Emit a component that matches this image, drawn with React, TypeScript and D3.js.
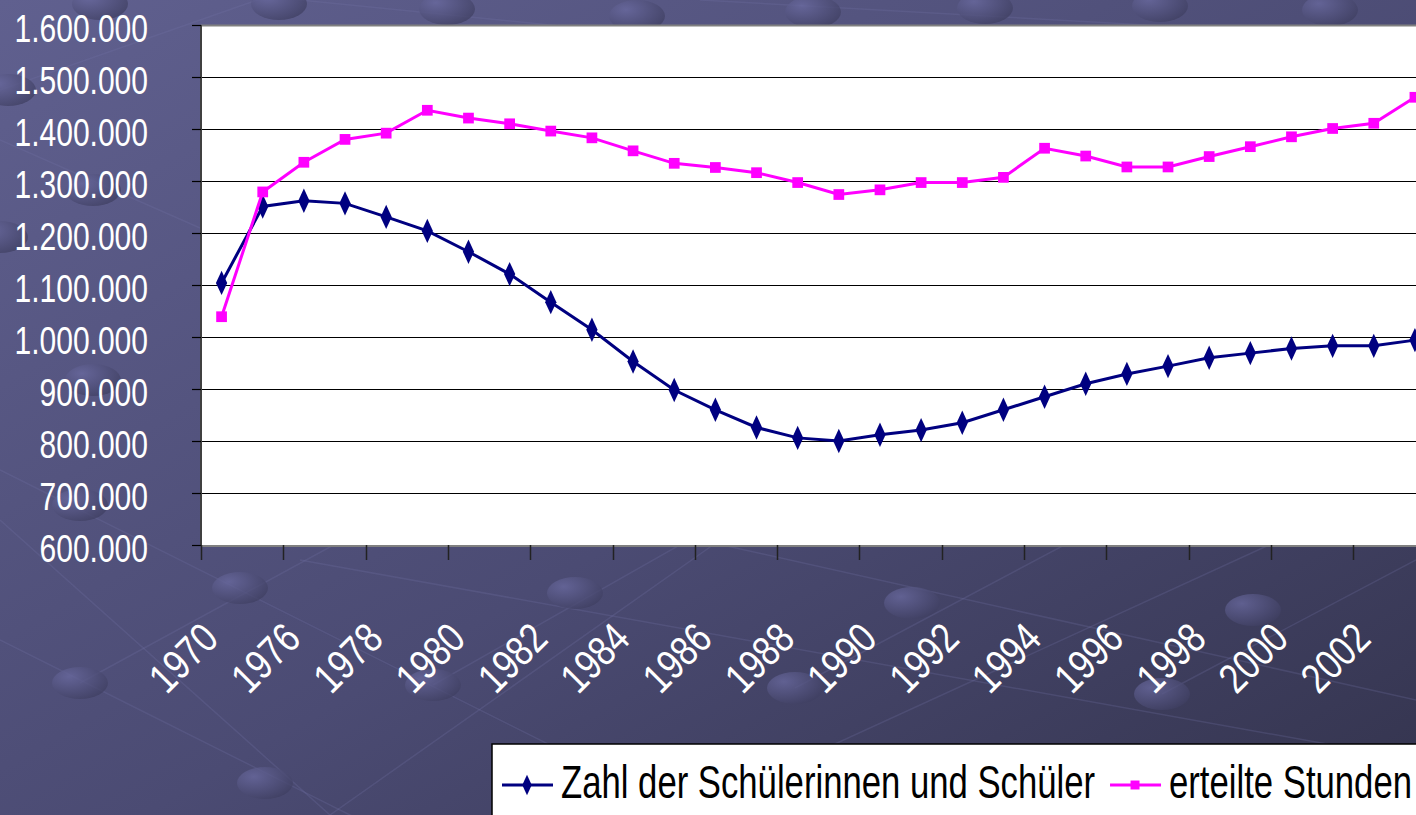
import React, { useEffect, useRef } from 'react';
import * as d3 from 'd3';

// school years (category axis, every second one is labelled)
const years = [
  '1970', '1975', '1976', '1977', '1978', '1979', '1980', '1981', '1982', '1983',
  '1984', '1985', '1986', '1987', '1988', '1989', '1990', '1991', '1992', '1993',
  '1994', '1995', '1996', '1997', '1998', '1999', '2000', '2001', '2002', '2003',
];

// Zahl der Schülerinnen und Schüler
const pupils = [
  1104000, 1251000, 1262000, 1257000, 1231000, 1204000, 1164000, 1121000, 1067000, 1014000,
  953000, 898000, 860000, 826000, 806000, 800000, 812000, 821000, 835000, 860000,
  885000, 910000, 929000, 944000, 960000, 969000, 978000, 983000, 983000, 994000,
];

// erteilte Stunden
const hours = [
  1039000, 1279000, 1336000, 1380000, 1392000, 1436000, 1421000, 1410000, 1396000, 1383000,
  1358000, 1334000, 1326000, 1316000, 1297000, 1274000, 1283000, 1297000, 1297000, 1307000,
  1363000, 1348000, 1327000, 1327000, 1347000, 1366000, 1385000, 1401000, 1411000, 1461000,
];

const yTicks = [600000, 700000, 800000, 900000, 1000000, 1100000, 1200000, 1300000, 1400000, 1500000, 1600000];

const seriesNames = ['Zahl der Schülerinnen und Schüler', 'erteilte Stunden'];

const W = 1416;
const H = 815;
// no narrow font installed: regular sans squeezed horizontally
const SANS = "'Liberation Sans', Arial, sans-serif";

const App: React.FC = () => {
  const svgRef = useRef<SVGSVGElement | null>(null);

  useEffect(() => {
    const svg = d3.select(svgRef.current);
    svg.selectAll('*').remove();

    const left = 201;
    const top = 25;
    const bottom = 545;
    const step = 41.15;

    const x = d3.scaleBand<string>().domain(years).range([left, left + step * years.length]).padding(0);
    const y = d3.scaleLinear().domain([600000, 1600000]).range([bottom, top]);
    const fmt = d3.formatLocale({ decimal: ',', thousands: '.', grouping: [3], currency: ['', '€'] }).format(',d');

    // background
    const defs = svg.append('defs');
    const bg = defs.append('linearGradient').attr('id', 'bg').attr('x1', 0).attr('y1', 0).attr('x2', 1).attr('y2', 1);
    bg.append('stop').attr('offset', '0%').attr('stop-color', '#60608f');
    bg.append('stop').attr('offset', '55%').attr('stop-color', '#4b4b73');
    bg.append('stop').attr('offset', '100%').attr('stop-color', '#34344e');
    const dot = defs.append('radialGradient').attr('id', 'dot').attr('cx', '30%').attr('cy', '30%').attr('r', '80%');
    dot.append('stop').attr('offset', '0%').attr('stop-color', '#6a6aa0');
    dot.append('stop').attr('offset', '100%').attr('stop-color', '#3e3e60');

    svg.append('rect').attr('width', W).attr('height', H).attr('fill', 'url(#bg)');

    // decorative network pattern
    const deco = svg.append('g');
    const lines: [number, number, number, number][] = [
      [0, 640, 560, 920], [0, 470, 700, 820], [300, 560, 1416, 760], [700, 540, 1416, 700],
      [0, 520, 330, 815], [330, 815, 720, 540], [80, 683, 600, 400], [433, 685, 900, 420],
      [795, 688, 1300, 420], [1162, 694, 1416, 560], [680, 815, 1280, 540], [0, 90, 600, -120],
      [0, 140, 500, 360], [200, -10, 900, 60], [700, 0, 1416, 40],
    ];
    deco.selectAll('line.deco').data(lines).enter().append('line')
      .attr('x1', d => d[0]).attr('y1', d => d[1]).attr('x2', d => d[2]).attr('y2', d => d[3])
      .attr('stroke', '#7474a8').attr('stroke-opacity', 0.25).attr('stroke-width', 1.5);
    const dots: [number, number][] = [
      [80, 683], [265, 783], [240, 588], [433, 685], [575, 593], [795, 688], [912, 603],
      [1162, 694], [1253, 610], [279, 4], [447, 9], [637, 16], [813, 12], [985, 8], [1160, 6],
      [1330, 10], [100, 4], [8, 90], [0, 237], [93, 190], [80, 505], [93, 380],
    ];
    deco.selectAll('ellipse').data(dots).enter().append('ellipse')
      .attr('cx', d => d[0]).attr('cy', d => d[1]).attr('rx', 28).attr('ry', 16)
      .attr('fill', 'url(#dot)').attr('opacity', 0.75);

    // plot area
    svg.append('rect').attr('x', left).attr('y', top).attr('width', W - left + 40).attr('height', bottom - top)
      .attr('fill', '#ffffff');

    // gridlines
    svg.append('g').selectAll('line').data(yTicks.slice(1)).enter().append('line')
      .attr('x1', left).attr('x2', W).attr('y1', d => Math.round(y(d)) + 0.5).attr('y2', d => Math.round(y(d)) + 0.5)
      .attr('stroke', d => (d === 1600000 ? '#808080' : '#000')).attr('stroke-width', d => (d === 1600000 ? 2 : 1.2));

    // y axis
    const yAxis = svg.append('g');
    yAxis.append('line').attr('x1', left).attr('x2', left).attr('y1', top).attr('y2', bottom + 1)
      .attr('stroke', '#404040').attr('stroke-width', 2);
    yAxis.selectAll('line.tick').data(yTicks).enter().append('line').attr('class', 'tick')
      .attr('x1', left - 9).attr('x2', left).attr('y1', d => Math.round(y(d)) + 0.5).attr('y2', d => Math.round(y(d)) + 0.5)
      .attr('stroke', '#000').attr('stroke-width', 1.2);
    yAxis.selectAll('text').data(yTicks).enter().append('text')
      .attr('transform', d => `translate(148,${y(d) + 17}) scale(0.79,1)`)
      .attr('text-anchor', 'end').attr('fill', '#fff')
      .style('font-family', SANS).style('font-size', '38px')
      .text(d => fmt(d));

    // x axis
    const xAxis = svg.append('g');
    xAxis.append('line').attr('x1', left).attr('x2', W).attr('y1', bottom + 1).attr('y2', bottom + 1)
      .attr('stroke', '#808080').attr('stroke-width', 2);
    const labelled = years.filter((_, i) => i % 2 === 0);
    xAxis.selectAll('line.tick').data(labelled).enter().append('line').attr('class', 'tick')
      .attr('x1', d => Math.round(x(d) as number) + 0.5).attr('x2', d => Math.round(x(d) as number) + 0.5)
      .attr('y1', bottom).attr('y2', bottom + 15)
      .attr('stroke', '#222').attr('stroke-width', 1.5);
    xAxis.selectAll('text').data(labelled).enter().append('text')
      .attr('transform', d => `translate(${(x(d) as number) + x.bandwidth() / 2 - 1},${bottom + 96}) rotate(-45) scale(0.82,1)`)
      .attr('text-anchor', 'end').attr('fill', '#fff')
      .style('font-family', SANS).style('font-size', '42px')
      .text(d => d);

    // series
    const series = [
      { name: seriesNames[0], values: pupils, color: '#000080', symbol: d3.symbolDiamond, size: 110 },
      { name: seriesNames[1], values: hours, color: '#ff00ff', symbol: d3.symbolSquare, size: 115 },
    ];
    const cx = (i: number) => (x(years[i]) as number) + x.bandwidth() / 2;
    const line = d3.line<number>().x((_, i) => cx(i)).y(d => y(d));

    series.forEach(s => {
      const g = svg.append('g');
      g.append('path').attr('d', line(s.values)).attr('fill', 'none')
        .attr('stroke', s.color).attr('stroke-width', 3);
      g.selectAll('path.m').data(s.values).enter().append('path').attr('class', 'm')
        .attr('d', d3.symbol().type(s.symbol).size(s.size)())
        .attr('transform', (d, i) => `translate(${cx(i)},${y(d)})${s.symbol === d3.symbolDiamond ? ' scale(1,1.25)' : ''}`)
        .attr('fill', s.color);
    });

    // legend
    const lg = svg.append('g');
    lg.append('rect').attr('x', 492).attr('y', 744).attr('width', 1000).attr('height', 200)
      .attr('fill', '#fff').attr('stroke', '#000').attr('stroke-width', 1.5);
    const sx = 0.738;
    let lx = 502;
    series.forEach(s => {
      lg.append('line').attr('x1', lx).attr('x2', lx + 51).attr('y1', 785).attr('y2', 785)
        .attr('stroke', s.color).attr('stroke-width', 3);
      lg.append('path').attr('d', d3.symbol().type(s.symbol).size(s.size * 0.7)())
        .attr('transform', `translate(${lx + 25},785)${s.symbol === d3.symbolDiamond ? ' scale(1,1.25)' : ''}`)
        .attr('fill', s.color);
      const t = lg.append('text').attr('transform', `translate(${lx + 59},798) scale(${sx},1)`).attr('fill', '#000')
        .style('font-family', SANS).style('font-size', '47px').text(s.name);
      const w = (t.node() as SVGTextElement).getComputedTextLength() * sx;
      lx = lx + 59 + w + 15;
    });
  }, []);

  return (
    <svg
      ref={svgRef}
      width={W}
      height={H}
      style={{ position: 'absolute', left: 0, top: 0, display: 'block' }}
    />
  );
};

export default App;
